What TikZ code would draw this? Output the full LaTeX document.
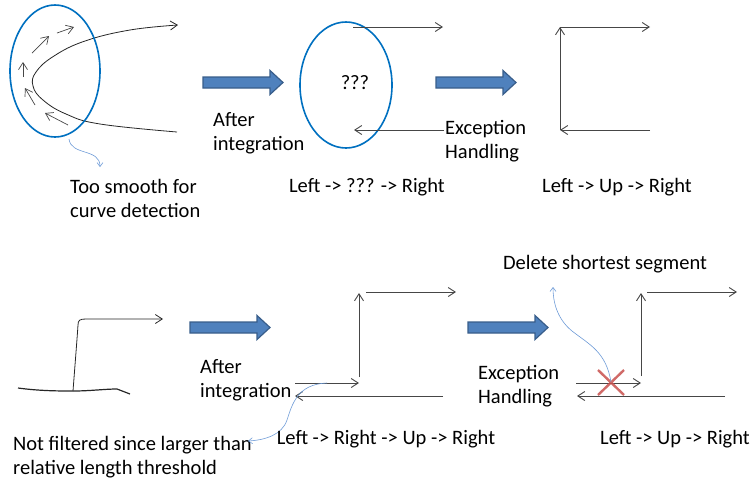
\documentclass[tikz,border=0pt]{standalone}
\usepackage{fontspec}
\setmainfont{Carlito}
\usetikzlibrary{arrows.meta}

\definecolor{ringblue}{RGB}{0,112,192}
\definecolor{hintblue}{RGB}{110,155,215}
\definecolor{arrowfill}{RGB}{79,129,189}
\definecolor{arrowline}{RGB}{56,93,138}
\definecolor{flowgray}{RGB}{70,70,70}
\definecolor{crossred}{RGB}{200,80,77}

\tikzset{
  ring/.style={draw=ringblue, line width=1.6pt},
  flow/.style={draw=flowgray, line width=0.9pt, -{Straight Barb[length=7pt,width=9pt]}},
  sketch/.style={draw=black!85, line width=0.8pt},
  hint/.style={draw=hintblue, line width=0.6pt, -{Straight Barb[length=4pt,width=6pt]}},
  blockarrow/.style={fill=arrowfill, draw=arrowline, line width=1.2pt},
  label/.style={inner sep=0pt, align=left, anchor=base west,
    font=\fontsize{20.5}{24}\selectfont},
  caption/.style={inner sep=0pt, anchor=base, font=\fontsize{20.5}{24}\selectfont}
}

\newcommand{\blockarrow}[2]{%
  \filldraw[blockarrow] (#1,#2) ++(0,-5.5) -- ++(67,0) -- ++(0,-6.5)
    -- ++(13,12) -- ++(-13,12) -- ++(0,-6.5) -- ++(-67,0) -- cycle;}

\begin{document}
\begin{tikzpicture}[x=1pt,y=-1pt]
\useasboundingbox (0,0) rectangle (752,483);

% top left: smooth stroke
\draw[sketch, -{Straight Barb[length=7pt,width=9pt]}] plot[smooth, tension=0.7] coordinates
  {(177,132) (100,124) (66,114) (43,100) (33,86) (36,72) (54,56)
   (85,41) (130,30) (178,25)};
\draw[ring] (55,71) ellipse [x radius=45pt, y radius=66pt];
\foreach \a/\b in {{(68,125)/(45,113)}, {(35,105)/(25,88)}, {(23,77)/(23,62)},
                   {(32,53)/(49,36)}, {(57,33)/(74,27)}}
  \draw[flow, line width=0.7pt] \a -- \b;
\coordinate (smooth) at (69,139);
\node[label] (toosmooth) at (70,217) {Too smooth for\\curve detection};
\draw[hint] (smooth) .. controls (71,156) and (100,148) .. (100,167);

\blockarrow{203}{82.5}
\node[label] (after1) at (213,150) {After\\integration};

% top middle: unknown direction
\draw[ring] (346,85) ellipse [x radius=46pt, y radius=63pt];
\node[inner sep=0pt, font=\fontsize{20.5}{24}\selectfont] (unknown) at (355,83) {???};
\coordinate (m1) at (353,27);
\coordinate (m2) at (443,27);
\coordinate (m3) at (444,130);
\coordinate (m4) at (354,130);
\draw[flow] (m1) -- (m2);
\draw[flow] (m3) -- (m4);
\node[label] (except1) at (445,158) {Exception\\Handling};
\node[caption] (cap1) at (367,192) {Left -> ??? -> Right};

\blockarrow{436}{82.5}

% top right: resolved
\coordinate (r1) at (560,130);
\coordinate (r2) at (560,27);
\coordinate (r3) at (650,27);
\coordinate (r4) at (650,130);
\draw[flow] (r1) -- (r2);
\draw[flow] (r2) -- (r3);
\draw[flow] (r4) -- (r1);
\node[caption] (cap2) at (617,192) {Left -> Up -> Right};

% bottom left: step stroke
\draw[sketch, line width=1.2pt] (18,388) .. controls (40,391) and (60,391) .. (73,391)
  .. controls (90,391) and (105,389) .. (117,389) -- (130,394);
\draw[sketch, -{Straight Barb[length=7pt,width=9pt]}] (73,391) .. controls (75,365) and (77,340) .. (78,325)
  .. controls (78,320) and (80,319) .. (86,319) -- (163,319);
\node[label] (notfiltered) at (13,474) {Not filtered since larger than\\relative length threshold};

\blockarrow{190}{327.5}
\node[label] (after2) at (200,397) {After\\integration};

% bottom middle
\coordinate (s1) at (295,383);
\coordinate (s2) at (359,383);
\coordinate (s3) at (359,377);
\coordinate (s4) at (359,293);
\coordinate (s5) at (366,292);
\coordinate (s6) at (456,292);
\coordinate (s7) at (443,396);
\coordinate (s8) at (295,396);
\draw[flow] (s1) -- (s2);
\draw[flow] (s3) -- (s4);
\draw[flow] (s5) -- (s6);
\draw[flow] (s7) -- (s8);
\draw[hint] (327,383) .. controls (297,384) and (292,405) .. (287,420)
  .. controls (282,435) and (265,440) .. (248,441);
\node[caption] (cap3) at (386,444) {Left -> Right -> Up -> Right};

\blockarrow{468}{327.5}
\node[label] (except2) at (478,403) {Exception\\Handling};
\node[caption] (delete) at (605,269) {Delete shortest segment};

% bottom right
\coordinate (t1) at (576,383);
\coordinate (t2) at (641,383);
\coordinate (t3) at (641,376);
\coordinate (t4) at (641,293);
\coordinate (t5) at (647,292);
\coordinate (t6) at (737,292);
\coordinate (t7) at (725,396);
\coordinate (t8) at (577,396);
\draw[flow] (t1) -- (t2);
\draw[flow] (t3) -- (t4);
\draw[flow] (t5) -- (t6);
\draw[flow] (t7) -- (t8);
\coordinate (cross) at (611,382);
\draw[crossred, opacity=0.85, line width=2.4pt] (cross) ++(-13,-12) -- ++(26,25)
  (cross) ++(-13,13) -- ++(26,-25);
\draw[hint] (cross) .. controls (606,352) and (590,345) .. (572,331)
  .. controls (556,318) and (553,300) .. (553,287);
\node[caption] (cap4) at (675,444) {Left -> Up -> Right};

\end{tikzpicture}
\end{document}
